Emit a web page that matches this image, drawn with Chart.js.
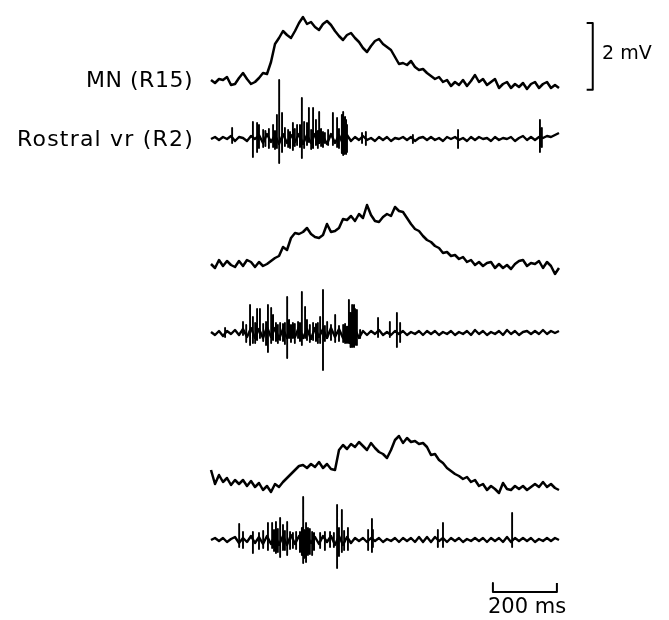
<!DOCTYPE html>
<html>
<head>
<meta charset="utf-8">
<script src="https://cdn.jsdelivr.net/npm/chart.js@4/dist/chart.umd.min.js"></script>
<style>
  body { margin: 0; background: #fff; }
  #wrap { position: relative; width: 669px; height: 620px; }
  #traces { position: absolute; left: 0; top: 0; }
  .lbl {
    position: absolute;
    font-family: "DejaVu Sans", "Liberation Sans", sans-serif;
    color: #000;
    white-space: nowrap;
    line-height: 1;
    transform: translateY(-50%);
  }
</style>
</head>
<body>
<div id="wrap">
  <canvas id="traces" width="669" height="620"></canvas>
  <div class="lbl" style="right:476px; top:80px; font-size:22px; letter-spacing:0.5px;">MN (R15)</div>
  <div class="lbl" style="right:475px; top:139px; font-size:22px; letter-spacing:1.2px;">Rostral vr (R2)</div>
  <div class="lbl" style="left:602px; top:52px; font-size:19px;">2 mV</div>
  <div class="lbl" style="left:488px; top:606px; font-size:21px;">200 ms</div>
</div>
<script>
// sampling step of the traced recordings (ms)
const DT = 12.5;

// motoneuron membrane potential, mV relative to resting level, one value per DT
const mn1 = [
  0.15, 0.06, 0.18, 0.15, 0.24, 0, 0.03, 0.21, 0.36, 0.18,
  0.03, 0.09, 0.21, 0.36, 0.33, 0.69, 1.23, 1.41, 1.62, 1.50,
  1.41, 1.62, 1.86, 2.04, 1.83, 1.89, 1.74, 1.65, 1.83, 1.92,
  1.80, 1.62, 1.47, 1.35, 1.50, 1.56, 1.41, 1.29, 1.11, 0.99,
  1.17, 1.32, 1.38, 1.23, 1.14, 1.05, 0.84, 0.63, 0.66, 0.60,
  0.72, 0.54, 0.45, 0.48, 0.36, 0.27, 0.18, 0.24, 0.09, 0.15,
  -0.03, 0.09, 0, 0.15, -0.03, 0.12, 0.30, 0.09, 0.18, 0,
  0.09, 0.18, -0.09, 0.03, 0.09, -0.09, 0.03, -0.06, 0.06, -0.12,
  0.03, 0.09, -0.09, 0.03, 0.09, -0.09, 0, -0.09
];
const mn2 = [
  0.06, -0.06, 0.18, 0, 0.15, 0.03, -0.03, 0.15, 0, 0.18,
  0.12, -0.03, 0.12, 0, 0.06, 0.15, 0.24, 0.30, 0.57, 0.48,
  0.84, 0.99, 0.96, 1.02, 1.14, 0.96, 0.87, 0.84, 0.93, 1.26,
  1.02, 1.05, 1.14, 1.41, 1.38, 1.50, 1.35, 1.56, 1.44, 1.83,
  1.53, 1.35, 1.32, 1.47, 1.56, 1.50, 1.77, 1.65, 1.62, 1.44,
  1.26, 1.11, 1.05, 0.90, 0.78, 0.72, 0.60, 0.54, 0.39, 0.42,
  0.30, 0.33, 0.21, 0.27, 0.12, 0.18, 0.03, 0.12, 0, 0.09,
  0.12, -0.06, 0.06, -0.06, 0.03, -0.09, 0.06, 0.15, 0.18, 0,
  0.09, 0.06, 0.15, -0.06, 0.12, 0, -0.24, -0.06
];
const mn3 = [
  0.51, 0.09, 0.36, 0.15, 0.27, 0.06, 0.21, 0.09, 0.21, 0.03,
  0.18, 0, 0.12, -0.09, 0.03, -0.15, 0.09, 0, 0.15, 0.27,
  0.39, 0.51, 0.63, 0.66, 0.57, 0.69, 0.60, 0.75, 0.57, 0.69,
  0.54, 0.51, 1.11, 1.26, 1.14, 1.29, 1.20, 1.35, 1.23, 1.11,
  1.32, 1.17, 1.05, 0.99, 0.87, 1.11, 1.41, 1.53, 1.32, 1.47,
  1.35, 1.38, 1.29, 1.32, 1.20, 0.96, 0.99, 0.81, 0.72, 0.57,
  0.48, 0.39, 0.33, 0.24, 0.30, 0.15, 0.21, 0.03, 0.09, -0.09,
  0.03, -0.06, -0.18, 0.12, -0.06, -0.09, 0.03, -0.06, 0.03, -0.09,
  0, 0.09, 0, 0.15, 0, 0.09, -0.03, -0.09
];

// ventral root background activity, one value per DT
const vr1Noise = [
  0, 0.06, -0.03, 0.06, 0, 0.09, -0.06, 0.06, 0.03, -0.06,
  0.09, 0, 0.12, -0.12, 0.15, -0.09, 0.12, -0.15, 0.15, -0.12,
  0.12, -0.09, 0.15, -0.15, 0.12, -0.12, 0.15, -0.12, 0.09, -0.15,
  0.15, -0.12, 0.12, -0.15, 0.12, -0.06, 0.06, -0.03, 0.09, -0.03,
  0.03, -0.06, 0.06, -0.03, 0.06, -0.06, 0.03, 0, 0.06, -0.03,
  0.06, -0.06, 0.03, 0.06, -0.03, 0.06, -0.03, 0.03, -0.06, 0.06,
  0, 0.06, -0.03, 0.03, -0.06, 0.06, -0.03, 0.06, 0, 0.03,
  -0.06, 0.06, -0.03, 0.03, 0, 0.06, -0.06, 0.03, 0.09, -0.03,
  0.06, -0.03, 0.06, 0.03, 0.09, 0.06, 0.12, 0.18
];
const vr2Noise = [
  0.03, -0.06, 0.06, -0.09, 0.06, -0.03, 0.09, -0.06, 0.12, -0.12,
  0.15, -0.15, 0.12, -0.15, 0.18, -0.12, 0.15, -0.18, 0.12, -0.15,
  0.15, -0.12, 0.18, -0.15, 0.12, -0.18, 0.15, -0.12, 0.12, -0.15,
  0.15, -0.12, 0.12, -0.15, 0.18, -0.12, 0.12, -0.15, 0.06, -0.06,
  0.06, -0.03, 0.09, -0.06, 0.03, -0.06, 0.06, -0.03, 0.06, -0.06,
  0.03, -0.03, 0.06, -0.06, 0.06, -0.03, 0.06, -0.06, 0.03, -0.03,
  0.06, -0.06, 0.03, -0.03, 0.06, -0.06, 0.09, -0.03, 0.06, -0.06,
  0.03, -0.03, 0.06, -0.06, 0.09, -0.03, 0.06, -0.06, 0.03, 0.06,
  -0.03, 0.06, -0.03, 0.09, -0.03, 0.06, 0, 0.06
];
const vr3Noise = [
  0, 0.06, -0.03, 0.06, -0.06, 0.03, 0.09, -0.09, 0.06, -0.06,
  0.12, -0.09, 0.09, -0.12, 0.12, -0.12, 0.15, -0.15, 0.12, -0.15,
  0.15, -0.12, 0.12, -0.15, 0.12, -0.09, 0.09, -0.12, 0.12, -0.06,
  0.12, -0.15, 0.12, -0.15, 0.09, -0.09, 0.06, -0.03, 0.06, -0.06,
  0.06, -0.03, 0.06, -0.06, 0.03, -0.03, 0.06, -0.06, 0.06, -0.03,
  0.06, -0.06, 0.09, -0.06, 0.09, -0.06, 0.09, -0.03, 0.06, -0.06,
  0.06, -0.03, 0.06, -0.06, 0.03, -0.03, 0.06, -0.03, 0.06, -0.06,
  0.06, -0.03, 0.06, -0.06, 0.09, -0.06, 0.06, -0.03, 0.06, -0.03,
  0.06, -0.06, 0.03, -0.03, 0.06, -0.03, 0.06, 0
];

// ventral root spikes: time (ms), positive peak and negative peak (mV)
const vr1SpikeT = [66, 131, 144, 150, 163, 170, 181, 194, 200, 206, 213, 222, 231, 241, 247, 256, 262, 269, 278, 284, 291, 300, 306, 313, 319, 328, 334, 338, 344, 350, 356, 366, 381, 394, 400, 409, 413, 416, 419, 422, 425, 472, 484, 631, 772, 1028, 1034];
const vr1SpikeUp = [0.33, 0.51, 0.48, 0.42, 0.27, 0.24, 0.30, 0.42, 0.24, 0.72, 1.77, 0.78, 0.33, 0.27, 0.21, 0.48, 0.30, 0.42, 0.42, 1.23, 0.51, 0.48, 0.93, 0.27, 0.93, 0.57, 0.24, 0.81, 0.30, 0.21, 0.18, 0.27, 0.78, 0.63, 0.30, 0.72, 0.81, 0.60, 0.66, 0.57, 0.42, 0.18, 0.21, 0.12, 0.27, 0.57, 0.33];
const vr1SpikeDown = [-0.12, -0.54, -0.39, -0.27, -0.24, -0.21, -0.27, -0.24, -0.30, -0.27, -0.72, -0.39, -0.21, -0.24, -0.27, -0.33, -0.21, -0.18, -0.24, -0.57, -0.27, -0.18, -0.09, -0.30, -0.27, -0.18, -0.27, -0.12, -0.21, -0.24, -0.12, -0.18, -0.18, -0.24, -0.27, -0.42, -0.48, -0.45, -0.42, -0.45, -0.39, -0.12, -0.18, -0.12, -0.27, -0.39, -0.24];

const vr2SpikeT = [44, 100, 110, 122, 131, 138, 144, 153, 163, 172, 178, 188, 194, 203, 209, 216, 225, 231, 238, 244, 250, 256, 262, 272, 278, 284, 294, 300, 309, 319, 328, 334, 341, 350, 356, 363, 375, 388, 400, 413, 419, 425, 431, 436, 441, 447, 450, 456, 466, 522, 559, 581, 591];
const vr2SpikeUp = [0.15, 0.33, 0.24, 0.84, 0.48, 0.30, 0.72, 0.72, 0.27, 0.33, 0.84, 0.75, 0.54, 0.30, 0.24, 0.30, 0.27, 0.30, 1.08, 0.39, 0.24, 0.30, 0.27, 0.33, 0.30, 1.23, 0.78, 0.39, 0.24, 0.30, 0.27, 0.30, 0.48, 1.29, 0.21, 0.33, 0.24, 0.54, 0.21, 0.24, 0.27, 0.09, 0.99, 0.60, 0.84, 0.84, 0.72, 0.69, 0.09, 0.45, 0.33, 0.60, 0.30];
const vr2SpikeDown = [-0.12, -0.06, -0.27, -0.36, -0.30, -0.30, -0.21, -0.15, -0.24, -0.36, -0.57, -0.30, -0.21, -0.24, -0.30, -0.21, -0.24, -0.33, -0.75, -0.15, -0.27, -0.15, -0.30, -0.15, -0.24, -0.36, -0.15, -0.21, -0.27, -0.21, -0.24, -0.30, -0.30, -1.11, -0.24, -0.15, -0.21, -0.27, -0.24, -0.27, -0.30, -0.30, -0.30, -0.42, -0.42, -0.42, -0.36, -0.36, -0.15, -0.12, -0.12, -0.42, -0.27];

const vr3SpikeT = [88, 100, 131, 150, 163, 178, 191, 197, 203, 209, 216, 225, 231, 238, 247, 256, 266, 278, 284, 288, 291, 297, 303, 309, 316, 322, 341, 356, 372, 384, 394, 400, 409, 416, 428, 491, 503, 506, 709, 725, 941];
const vr3SpikeUp = [0.48, 0.24, 0.24, 0.21, 0.27, 0.51, 0.51, 0.30, 0.54, 0.33, 0.66, 0.45, 0.27, 0.54, 0.24, 0.21, 0.24, 0.24, 0.36, 1.29, 0.30, 0.51, 0.36, 0.33, 0.24, 0.21, 0.21, 0.24, 0.24, 0.21, 1.05, 0.36, 0.90, 0.27, 0.36, 0.30, 0.63, 0.30, 0.30, 0.51, 0.81];
const vr3SpikeDown = [-0.21, -0.24, -0.39, -0.27, -0.24, -0.30, -0.24, -0.33, -0.39, -0.36, -0.51, -0.30, -0.30, -0.45, -0.27, -0.24, -0.27, -0.36, -0.45, -0.69, -0.54, -0.66, -0.45, -0.42, -0.45, -0.30, -0.24, -0.30, -0.21, -0.21, -0.84, -0.48, -0.36, -0.30, -0.30, -0.30, -0.36, -0.21, -0.21, -0.21, -0.21];

// calibration bars
const CAL_MV = 2;
const CAL_MS = 200;

// layout: where each trace sits on the shared mV axis
const OFFSETS = { mn1: -2.55, vr1: -4.17, mn2: -7.98, vr2: -9.99, mn3: -14.61, vr3: -16.20 };
const X_MIN = -659.4, X_MAX = 1431.3;
const Y_MIN = -18.6, Y_MAX = 0;

function makeTrace(values, offset) {
  return values.map((v, i) => ({ x: i * DT, y: offset + v }));
}

// spikes as separate vertical strokes, broken apart by null gaps
function makeSpikes(spikeT, up, down, offset) {
  const pts = [];
  spikeT.forEach((t, i) => {
    pts.push({ x: t, y: offset + up[i] });
    pts.push({ x: t, y: offset + down[i] });
    pts.push({ x: t, y: null });
  });
  return pts;
}

function trace(data, width) {
  return {
    data,
    borderColor: "#000",
    borderWidth: width,
    pointRadius: 0,
    tension: 0,
    fill: false,
    spanGaps: false,
    borderJoinStyle: "round",
    borderCapStyle: "butt",
  };
}

// time bar sits below the last trace, voltage bar right of the first one
const tBarY = -17.76, tTick = 0.27, tBarStart = 881;
const vBarX = 1193, vBarTop = -0.69, vTick = 19;

const datasets = [
  trace(makeTrace(mn1, OFFSETS.mn1), 2.5),
  trace(makeTrace(vr1Noise, OFFSETS.vr1), 2.4),
  trace(makeSpikes(vr1SpikeT, vr1SpikeUp, vr1SpikeDown, OFFSETS.vr1), 1.9),
  trace(makeTrace(mn2, OFFSETS.mn2), 2.5),
  trace(makeTrace(vr2Noise, OFFSETS.vr2), 2.4),
  trace(makeSpikes(vr2SpikeT, vr2SpikeUp, vr2SpikeDown, OFFSETS.vr2), 1.9),
  trace(makeTrace(mn3, OFFSETS.mn3), 2.5),
  trace(makeTrace(vr3Noise, OFFSETS.vr3), 2.4),
  trace(makeSpikes(vr3SpikeT, vr3SpikeUp, vr3SpikeDown, OFFSETS.vr3), 1.9),
  trace([
    { x: tBarStart, y: tBarY + tTick },
    { x: tBarStart, y: tBarY },
    { x: tBarStart + CAL_MS, y: tBarY },
    { x: tBarStart + CAL_MS, y: tBarY + tTick },
  ], 2),
  trace([
    { x: vBarX - vTick, y: vBarTop },
    { x: vBarX, y: vBarTop },
    { x: vBarX, y: vBarTop - CAL_MV },
    { x: vBarX - vTick, y: vBarTop - CAL_MV },
  ], 2),
];

new Chart(document.getElementById("traces"), {
  type: "line",
  data: { datasets },
  options: {
    responsive: false,
    animation: false,
    layout: { padding: 0 },
    plugins: { legend: { display: false }, tooltip: { enabled: false } },
    scales: {
      x: { type: "linear", min: X_MIN, max: X_MAX, display: false },
      y: { type: "linear", min: Y_MIN, max: Y_MAX, display: false },
    },
  },
});
</script>
</body>
</html>
